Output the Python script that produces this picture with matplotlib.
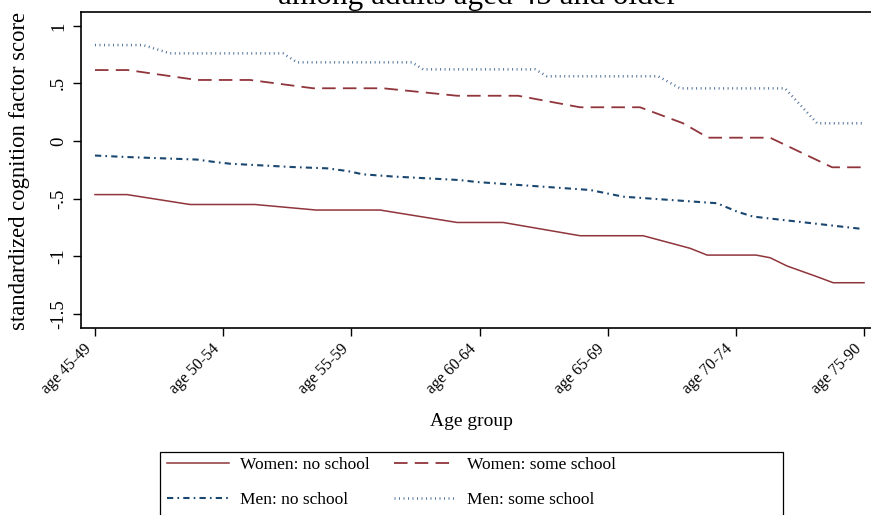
import matplotlib
matplotlib.use("Agg")
import matplotlib.pyplot as plt
from matplotlib.patches import Rectangle

plt.rcParams['font.family'] = ['Liberation Serif', 'DejaVu Serif']

# Age groups on the x axis (tick positions 0..6)
age_labels = ['age 45-49', 'age 50-54', 'age 55-59', 'age 60-64',
              'age 65-69', 'age 70-74', 'age 75-90']
y_ticks = [1, 0.5, 0, -0.5, -1, -1.5]
y_ticklabels = ['1', '.5', '0', '-.5', '-1', '-1.5']

# Line vertices (x in age-group units)
women_none_x = [0, .25, .741, 1.248, 1.724, 2.223, 2.824, 3.183, 3.783, 4.275,
                4.641, 4.774, 5.156, 5.265, 5.398, 5.632, 5.757, 5.998]
women_none_y = [-.465, -.465, -.551, -.551, -.599, -.599, -.707, -.707, -.822, -.822,
                -.931, -.99, -.99, -1.013, -1.085, -1.178, -1.23, -1.23]

women_some_x = [0, .257, .796, 1.209, 1.701, 2.247, 2.824, 3.3, 3.783, 4.251,
                4.587, 4.782, 5.265, 5.749, 5.998]
women_some_y = [.616, .616, .53, .53, .458, .458, .393, .393, .293, .293,
                .154, .029, .029, -.228, -.228]

men_none_x = [0, .25, .796, .92, 1.053, 1.544, 1.81, 1.966, 2.09, 2.324,
              2.847, 2.98, 3.861, 4.017, 4.119, 4.852, 5.008, 5.133, 5.991]
men_none_y = [-.126, -.139, -.161, -.18, -.197, -.226, -.237, -.26, -.289, -.308,
              -.339, -.356, -.425, -.46, -.483, -.54, -.613, -.656, -.764]

men_some_x = [0, .374, .585, 1.466, 1.576, 2.473, 2.559, 3.432, 3.526, 4.392,
              4.563, 5.382, 5.632, 5.991]
men_some_y = [.833, .833, .761, .761, .683, .683, .622, .622, .562, .562,
              .457, .457, .154, .154]

maroon = '#90353B'
navy = '#1A476F'

fig = plt.figure(figsize=(8.71, 5.15), dpi=100)
ax = fig.add_axes([81/871, 1 - 328/515, (872 - 81)/871, (328 - 12)/515])

l1, = ax.plot(women_none_x, women_none_y, color=maroon, lw=1.1, label='Women: no school')
l2, = ax.plot(women_some_x, women_some_y, color=maroon, lw=1.3,
              linestyle=(0, (7.5, 4)), label='Women: some school')
l3, = ax.plot(men_none_x, men_none_y, color=navy, lw=1.5,
              linestyle=(0, (3, 2, 0.8, 2)), label='Men: no school')
l4, = ax.plot(men_some_x, men_some_y, color='#4f7298', lw=1.8,
              linestyle=(0, (0.4, 1.4)), label='Men: some school')

ax.set_xlim(-0.109, 6.06)
ax.set_ylim(-1.623, 1.12)
ax.set_xticks(range(len(age_labels)))
ax.set_xticklabels(age_labels, rotation=45, ha='right', va='bottom',
                   rotation_mode='anchor', fontsize=11.5)
ax.set_yticks(y_ticks)
ax.set_yticklabels(y_ticklabels, rotation=90, va='center', fontsize=13.5)
ax.tick_params(axis='both', direction='out', length=6, width=1, pad=4)
ax.tick_params(axis='x', pad=11.5)
for s in ax.spines.values():
    s.set_linewidth(1.2)

fig.text(20/871, 1 - 171/515, 'standardized cognition factor score',
         rotation=90, ha='center', va='center', fontsize=16.3)
fig.text(471/871, 1 - 421/515, 'Age group', ha='center', va='center', fontsize=14)
fig.text(478/871, 1 - 4/515, 'among adults aged 45 and older',
         ha='center', va='baseline', fontsize=22.5)

fig.add_artist(Rectangle((160/871, -0.02), 623/871, (525 - 452)/515,
                         transform=fig.transFigure, fill=False,
                         edgecolor='black', lw=0.9))
# column-wise fill: women in row 1, men in row 2
fig.legend([l1, l3, l2, l4], [l.get_label() for l in (l1, l3, l2, l4)],
           loc='upper left', bbox_to_anchor=(165/871, 1 - 455/515),
           ncol=2, frameon=False, fontsize=12.5, handlelength=3.6,
           handletextpad=0.6, columnspacing=1.4, labelspacing=1.08,
           borderpad=0.1, borderaxespad=0)

fig.savefig('out.png', dpi=100)
